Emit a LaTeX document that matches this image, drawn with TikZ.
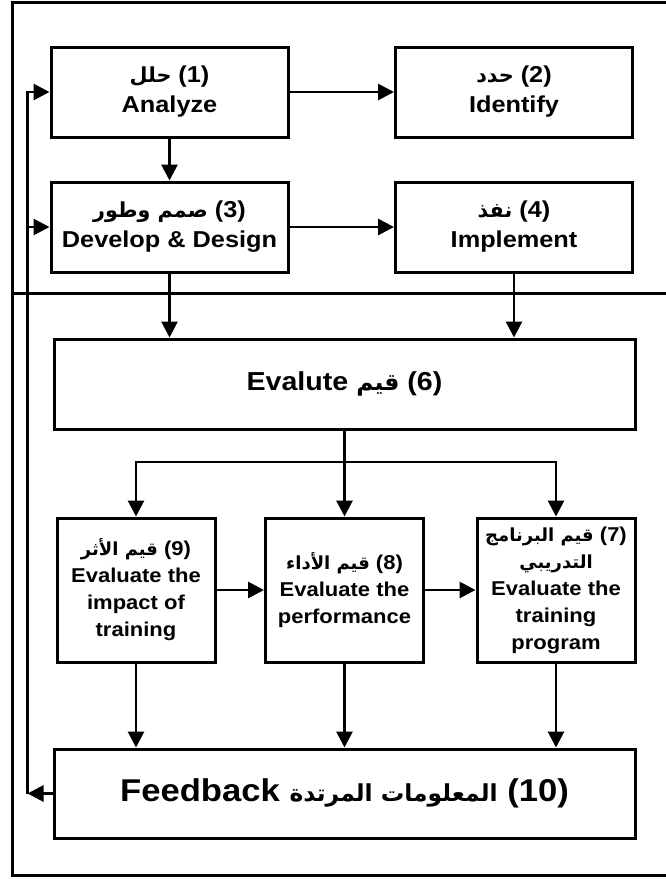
\documentclass[tikz,border=0pt]{standalone}
\usepackage{fontspec}
\setmainfont[FakeStretch=1.1]{Liberation Sans}
\newfontfamily\arfont[Script=Arabic,Scale=0.9]{DejaVu Sans}
\TeXXeTstate=1
\usetikzlibrary{arrows.meta}
\newcommand\AR[1]{{\arfont\bfseries\beginR #1\endR}}
\begin{document}
\begin{tikzpicture}[x=1pt,y=-1pt,
  box/.style={draw=black, line width=3pt, fill=white, inner sep=0pt, align=center, font=\bfseries},
  topbox/.style={box, minimum width=237pt, minimum height=90pt, font=\bfseries\fontsize{23}{30}\selectfont},
  widebox/.style={box, minimum width=581pt, minimum height=90pt},
  evalbox/.style={box, minimum width=158pt, minimum height=144pt, font=\bfseries\fontsize{20}{27}\selectfont},
  arr/.style={line width=2.9pt, -{Triangle[length=16pt,width=16pt]}},
  frame/.style={line width=3pt}]
\useasboundingbox (0,0) rectangle (665,879);

% outer frame and divider
\draw[frame] (672,2.5) -- (12.5,2.5) -- (12.5,875) -- (672,875);
\draw[frame] (12.5,293) -- (672,293);

% planning stage
\node[topbox] (b1) at (169.5,92) {\AR{حلل} (1)\\Analyze};
\node[topbox] (b2) at (514,92) {\AR{حدد} (2)\\Identify};
\node[topbox] (b3) at (169.5,227) {\AR{صمم وطور} (3)\\Develop \& Design};
\node[topbox] (b4) at (514,227) {\AR{نفذ} (4)\\Implement};

% evaluation stage
\node[widebox, font=\bfseries\fontsize{26}{30}\selectfont] (b6) at (344.5,384) {Evalute \AR{قيم} (6)};
\node[evalbox] (b9) at (136,590) {\AR{قيم الأثر} (9)\\Evaluate the\\impact of\\training};
\node[evalbox] (b8) at (344.5,590) {\AR{قيم الأداء} (8)\\Evaluate the\\performance};
\node[evalbox] (b7) at (556,590) {\AR{قيم البرنامج} (7)\\\AR{التدريبي}\\Evaluate the\\training\\program};
\node[widebox, minimum height=89pt, font=\bfseries\fontsize{31.5}{36}\selectfont] (b10) at (344.5,793.5)
  {Feedback {\fontsize{26}{30}\selectfont\AR{المعلومات المرتدة}} (10)};

% connectors
\draw[arr] (b1) -- (b2);
\draw[arr] (b1) -- (b3);
\draw[arr] (b3) -- (b4);
\draw[arr] (b3.south) -- (b3.south |- b6.north);
\draw[arr] (b4.south) -- (b4.south |- b6.north);

\coordinate (split) at (344.5,462);
\draw[arr] (b6) -- (b8);
\draw[arr] (split) -| (b9);
\draw[arr] (split) -| (b7);
\draw[arr] (b9) -- (b8);
\draw[arr] (b8) -- (b7);
\draw[arr] (b9) -- (b9 |- b10.north);
\draw[arr] (b8) -- (b8 |- b10.north);
\draw[arr] (b7) -- (b7 |- b10.north);

% feedback loop
\coordinate (fb) at (27.5,793.5);
\draw[arr] (b10) -- (fb);
\draw[arr] (fb) |- (b1.west);
\draw[arr] (fb |- b3.west) -- (b3.west);
\end{tikzpicture}
\end{document}
